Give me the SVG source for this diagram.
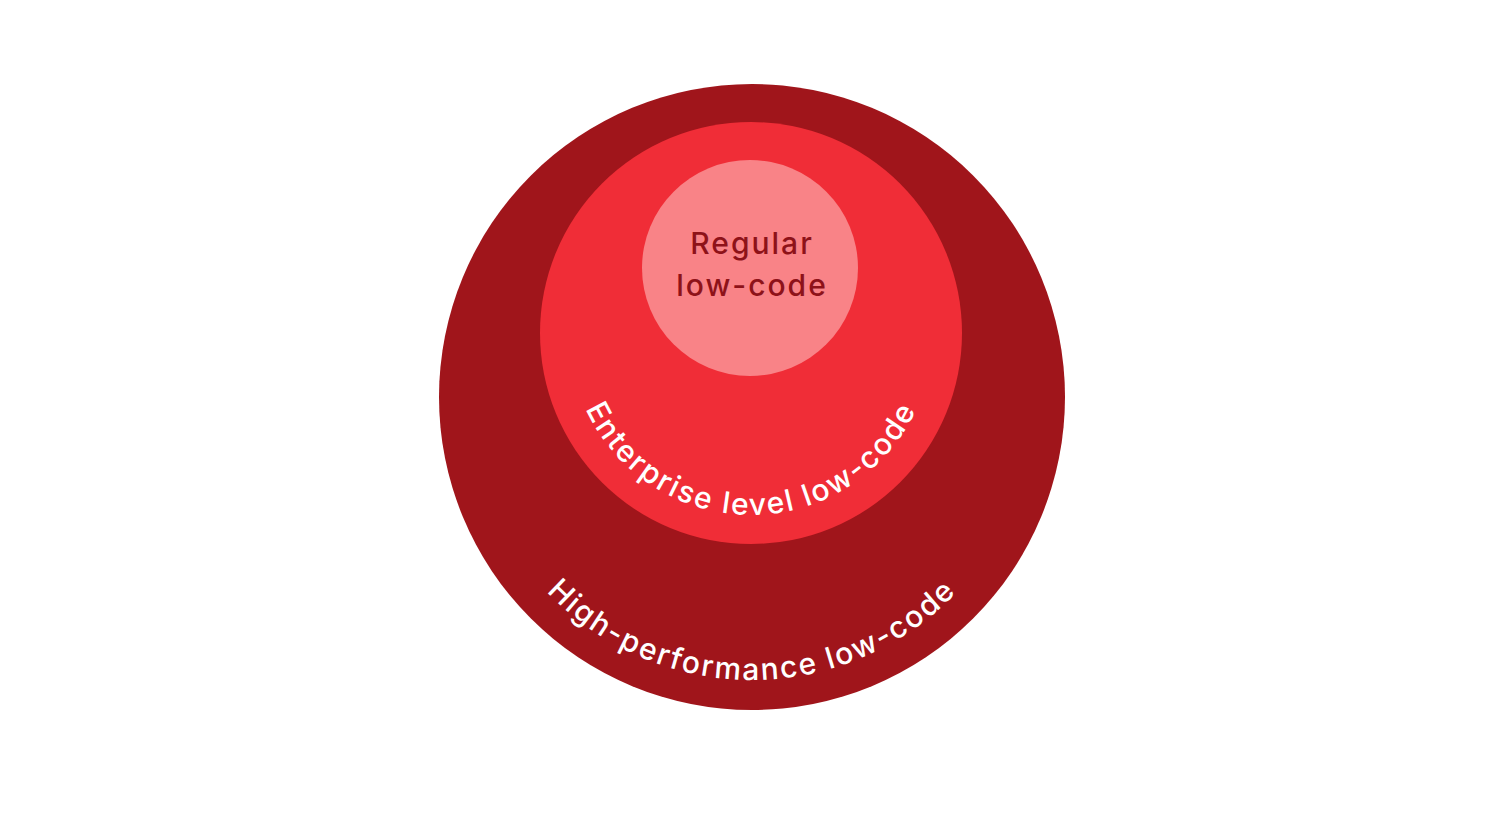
<svg xmlns="http://www.w3.org/2000/svg" width="1500" height="830" viewBox="0 0 1500 830">
<style>
.t{font-family:Inter,"DejaVu Sans",sans-serif;font-size:30px;font-weight:500;letter-spacing:2px}
.w{fill:#ffffff}
</style>
<defs>
<path id="pm" d="M 569 333 A 182 182 0 0 0 933 333"/>
<path id="po" d="M 469 397 A 283 283 0 0 0 1035 397"/>
</defs>
<rect width="1500" height="830" fill="#ffffff"/>
<g id="outer"><circle cx="752" cy="397" r="313" fill="#A0151B"/>
<text class="t w"><textPath href="#po" startOffset="50%" text-anchor="middle">High-performance low-code</textPath></text></g>
<g id="middle"><circle cx="751" cy="333" r="211" fill="#F02D37"/>
<text class="t w"><textPath href="#pm" startOffset="50%" text-anchor="middle">Enterprise level low-code</textPath></text></g>
<g id="inner"><circle cx="750" cy="268" r="108" fill="#F98387"/>
<text class="t" fill="#8E1219" text-anchor="middle"><tspan x="752" y="254">Regular</tspan><tspan x="752" y="296">low-code</tspan></text></g>
<g id="connectors"/>
</svg>
